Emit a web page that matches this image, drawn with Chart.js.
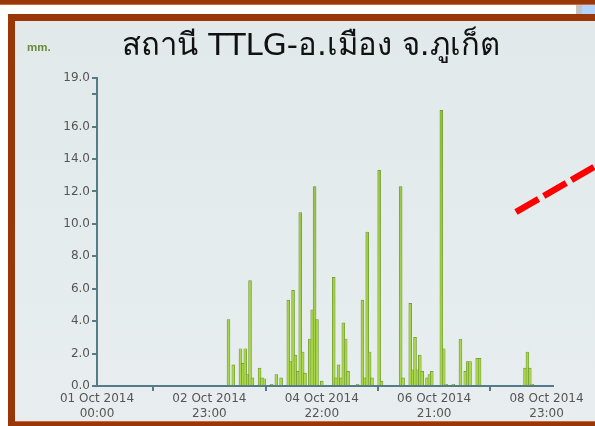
<!DOCTYPE html>
<html>
<head>
<meta charset="utf-8">
<script src="https://cdn.jsdelivr.net/npm/chart.js@4"></script>
<style>
  html, body { margin: 0; padding: 0; }
  body { width: 595px; height: 426px; position: relative; overflow: hidden; background: #fff; }
  .band-top { position: absolute; left: 0; top: 0; width: 595px; height: 4px; background: #9a3709; border-bottom: 1px solid #c8693a; }
  .tab-grey { position: absolute; left: 576px; top: 5px; width: 6px; height: 9px; background: #c4c4c4; }
  .tab-blue { position: absolute; left: 582px; top: 5px; width: 13px; height: 9px; background: #b3d3ff; }
  .frame { position: absolute; left: 8px; top: 14px; width: 587px; height: 412px; background: #9a3709; }
  .panel { position: absolute; left: 15px; top: 21px; width: 580px; height: 400px; background: linear-gradient(#e1e9eb, #e8eef0); overflow: hidden; border-bottom: 1px solid #c8693a; }
  .panel canvas { position: absolute; left: 0; top: 0; }
</style>
</head>
<body>
<div class="band-top"></div>
<div class="tab-grey"></div>
<div class="tab-blue"></div>
<div class="frame"></div>
<div class="panel"><canvas id="rain" width="592" height="401"></canvas></div>
<script>
// hours counted from 01 Oct 2014 00:00
const hours = [55, 57, 60, 61, 62, 63, 64, 65, 68, 69, 70, 73, 75, 77,
  80, 81, 82, 83, 84, 85, 86, 87, 89, 90, 91, 92, 94,
  99, 100, 101, 102, 103, 104, 105, 109, 111, 112, 113, 114, 115, 118, 119,
  127, 128, 131, 132, 133, 134, 135, 136, 138, 139, 140, 144, 145, 146, 149,
  152, 154, 155, 156, 159, 160, 179, 180, 181, 182];
const rain = [4.1, 1.3, 2.3, 1.4, 2.3, 0.7, 6.5, 0.5, 1.1, 0.5, 0.45, 0.1, 0.7, 0.5,
  5.3, 1.5, 5.9, 1.9, 0.9, 10.7, 2.1, 0.8, 2.9, 4.7, 12.3, 4.1, 0.3,
  6.7, 0.5, 1.3, 0.5, 3.9, 2.9, 0.9, 0.1, 5.3, 0.5, 9.5, 2.1, 0.5, 13.3, 0.3,
  12.3, 0.5, 5.1, 1.0, 3.0, 1.0, 1.9, 0.9, 0.5, 0.7, 0.9, 17.0, 2.3, 0.1, 0.1,
  2.9, 0.9, 1.5, 1.5, 1.7, 1.7, 1.1, 2.1, 1.1, 0.1];

const xTicks = [0, 47, 94, 141, 188];
const xTickLabels = [
  ['01 Oct 2014', '00:00'],
  ['02 Oct 2014', '23:00'],
  ['04 Oct 2014', '22:00'],
  ['06 Oct 2014', '21:00'],
  ['08 Oct 2014', '23:00']
];
const yTicks = [0, 2, 4, 6, 8, 10, 12, 14, 16, 18, 19];

const axisColor = '#557a88';
const tickFont = { family: 'DejaVu Sans', size: 12 };

const extras = {
  id: 'extras',
  afterDraw(chart) {
    const ctx = chart.ctx;
    ctx.save();
    ctx.fillStyle = '#6b8a3a';
    ctx.font = 'bold 11.5px "Liberation Sans"';
    ctx.textBaseline = 'alphabetic';
    ctx.fillText('mm.', 12, 30);
    ctx.strokeStyle = '#ff0000';
    ctx.lineWidth = 6.5;
    ctx.setLineDash([26, 6]);
    ctx.beginPath();
    ctx.moveTo(501, 191);
    ctx.lineTo(586, 142);
    ctx.stroke();
    ctx.restore();
  }
};

const canvas = document.getElementById('rain');
new Chart(canvas, {
  type: 'bar',
  data: {
    datasets: [{
      data: hours.map((h, i) => ({ x: h, y: rain[i] })),
      backgroundColor: (c) => {
        const area = c.chart.chartArea;
        if (!area) return '#9ec845';
        const g = c.chart.ctx.createLinearGradient(0, area.top, 0, area.bottom);
        g.addColorStop(0, '#90bb3e');
        g.addColorStop(1, '#acd84c');
        return g;
      },
      borderColor: '#6c9330',
      borderWidth: 0.7,
      barThickness: 2.9
    }]
  },
  options: {
    responsive: false,
    devicePixelRatio: 1,
    animation: false,
    layout: { padding: 0 },
    plugins: {
      legend: { display: false },
      tooltip: { enabled: false },
      title: {
        display: true,
        text: 'สถานี TTLG-อ.เมือง จ.ภูเก็ต',
        color: '#111',
        font: { family: '"DejaVu Sans", sans-serif', size: 31, weight: 'normal' },
        padding: { top: 7, bottom: 12.8 }
      }
    },
    scales: {
      x: {
        type: 'linear',
        min: 0,
        max: 190.7,
        offset: false,
        afterBuildTicks: (s) => { s.ticks = xTicks.map(v => ({ value: v })); },
        afterFit: (s) => { s.height = 36; },
        grid: { drawOnChartArea: false, drawTicks: true, tickLength: 5, color: axisColor, lineWidth: 2 },
        border: { color: axisColor, width: 2 },
        ticks: {
          autoSkip: false,
          maxRotation: 0,
          padding: 1,
          color: '#555',
          font: tickFont,
          callback: (v, i) => xTickLabels[i]
        }
      },
      y: {
        min: 0,
        max: 19,
        afterBuildTicks: (s) => { s.ticks = yTicks.map(v => ({ value: v })); },
        afterFit: (s) => { s.width = 82; },
        grid: { drawOnChartArea: false, drawTicks: true, tickLength: 5, color: axisColor, lineWidth: 2 },
        border: { color: axisColor, width: 2 },
        ticks: {
          padding: 2,
          color: '#555',
          font: tickFont,
          callback: (v) => v === 18 ? '' : v.toFixed(1)
        }
      },
      // empty right-hand strip, keeps the plot end short of the frame
      spacer: {
        position: 'right',
        afterFit: (s) => { s.width = 54; },
        grid: { display: false },
        border: { display: false },
        ticks: { display: false }
      }
    }
  },
  plugins: [extras]
});
</script>
</body>
</html>
